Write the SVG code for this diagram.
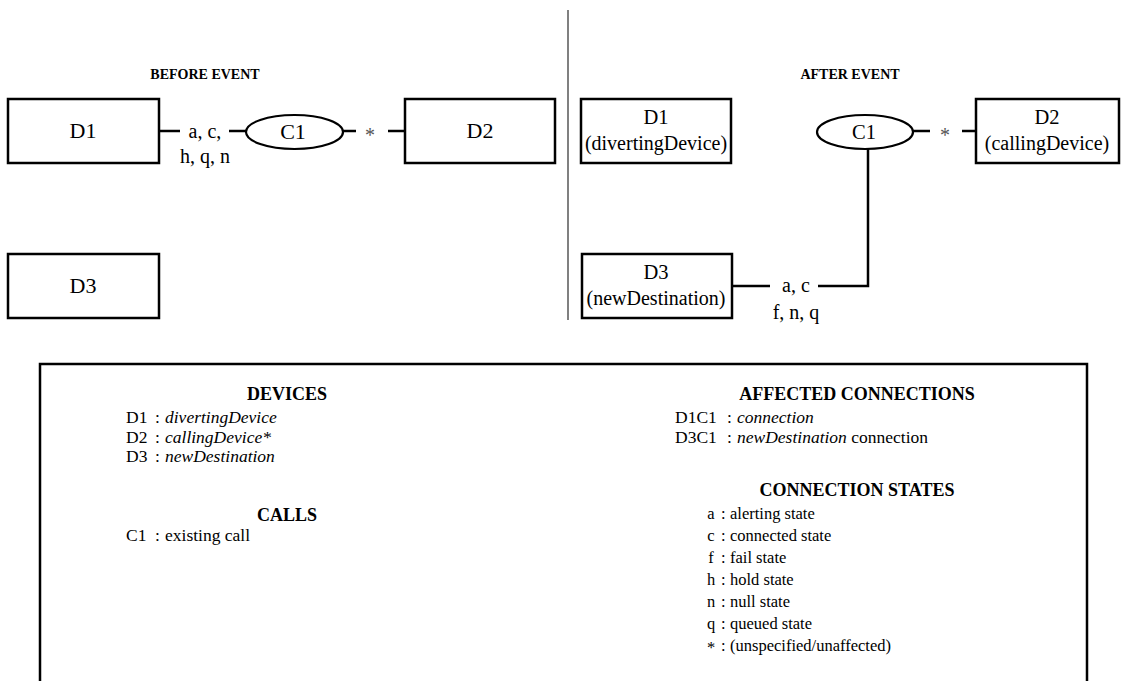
<svg xmlns="http://www.w3.org/2000/svg" width="1123" height="681" viewBox="0 0 1123 681" font-family="'Liberation Serif', 'DejaVu Serif', serif">
<style>
text, tspan{font-family:"Liberation Serif","DejaVu Serif",serif;fill:#000}
.box{fill:#fff;stroke:#000;stroke-width:2.5}
.ell{fill:#fff;stroke:#000;stroke-width:2.2}
.ln{fill:none;stroke:#000;stroke-width:2.5}
.lbB{font-size:22px;text-anchor:middle}
.lbA{font-size:20.5px;text-anchor:middle}
.sub{font-size:20px;text-anchor:middle}
.st{font-size:20px;text-anchor:middle}
.ast{font-size:20px;text-anchor:middle;fill:#555}
.hd{font-size:14px;font-weight:bold;text-anchor:middle}
.hl{font-size:18px;font-weight:bold;text-anchor:middle}
.lg{font-size:17.5px}
.ls{font-size:16.5px}
.lc{font-size:16.5px;text-anchor:middle}
.i{font-style:italic}
</style>
<rect width="1123" height="681" fill="#fff"/>
<text class="hd" x="205" y="79">BEFORE EVENT</text>
<text class="hd" x="850" y="79">AFTER EVENT</text>
<line x1="568" y1="10" x2="568" y2="320" stroke="#808080" stroke-width="2"/>
<g id="connectors">
<line class="ln" x1="159" y1="131" x2="180" y2="131"/>
<line class="ln" x1="229" y1="131" x2="246" y2="131"/>
<line class="ln" x1="343" y1="131" x2="356" y2="131"/>
<line class="ln" x1="388" y1="131" x2="405" y2="131"/>
<line class="ln" x1="913" y1="131" x2="930" y2="131"/>
<line class="ln" x1="962" y1="131" x2="976" y2="131"/>
<polyline class="ln" points="868,149 868,286 818,286"/>
<line class="ln" x1="770" y1="286" x2="732" y2="286"/>
<text class="st" x="205" y="138">a, c,</text>
<text class="st" x="205" y="163">h, q, n</text>
<text class="ast" x="370" y="142">*</text>
<text class="ast" x="945" y="142">*</text>
<text class="st" x="796" y="292">a, c</text>
<text class="st" x="796" y="319">f, n, q</text>
</g>
<g id="b-d1"><rect class="box" x="8" y="99" width="151" height="64"/><text class="lbB" x="83" y="138">D1</text></g>
<g id="b-c1"><ellipse class="ell" cx="294.5" cy="132" rx="48.5" ry="17"/><text class="lbB" x="293" y="139">C1</text></g>
<g id="b-d2"><rect class="box" x="405" y="99" width="150" height="64"/><text class="lbB" x="480" y="138">D2</text></g>
<g id="b-d3"><rect class="box" x="8" y="254" width="151" height="64"/><text class="lbB" x="83" y="293">D3</text></g>
<g id="a-d1"><rect class="box" x="581" y="99" width="150" height="64"/><text class="lbA" x="656" y="124">D1</text><text class="sub" x="656" y="150">(divertingDevice)</text></g>
<g id="a-c1"><ellipse class="ell" cx="865" cy="132" rx="48" ry="17"/><text class="lbA" x="864" y="139">C1</text></g>
<g id="a-d2"><rect class="box" x="976" y="99" width="143" height="64"/><text class="lbA" x="1047" y="124">D2</text><text class="sub" x="1047" y="150">(callingDevice)</text></g>
<g id="a-d3"><rect class="box" x="582" y="254" width="150" height="64"/><text class="lbA" x="656" y="279">D3</text><text class="sub" x="656" y="305">(newDestination)</text></g>
<g id="legend">
<path class="ln" d="M40,681 V364 H1087 V681"/>
<text class="hl" x="287" y="400">DEVICES</text>
<text class="lg" x="126" y="423">D1</text><text class="lg" x="155" y="423">:</text><text class="lg i" x="165" y="423">divertingDevice</text>
<text class="lg" x="126" y="442.5">D2</text><text class="lg" x="155" y="442.5">:</text><text class="lg i" x="165" y="442.5">callingDevice*</text>
<text class="lg" x="126" y="462">D3</text><text class="lg" x="155" y="462">:</text><text class="lg i" x="165" y="462">newDestination</text>
<text class="hl" x="287" y="521">CALLS</text>
<text class="lg" x="126" y="541">C1</text><text class="lg" x="155" y="541">:</text><text class="lg" x="165" y="541">existing call</text>
<text class="hl" x="857" y="400">AFFECTED CONNECTIONS</text>
<text class="lg" x="675" y="423">D1C1</text><text class="lg" x="727" y="423">:</text><text class="lg i" x="737" y="423">connection</text>
<text class="lg" x="675" y="442.5">D3C1</text><text class="lg" x="727" y="442.5">:</text><text class="lg" x="737" y="442.5"><tspan class="i">newDestination</tspan> connection</text>
<text class="hl" x="857" y="496">CONNECTION STATES</text>
<text class="lc" x="711" y="519">a</text><text class="ls" x="721" y="519">:</text><text class="ls" x="730" y="519">alerting state</text>
<text class="lc" x="711" y="541">c</text><text class="ls" x="721" y="541">:</text><text class="ls" x="730" y="541">connected state</text>
<text class="lc" x="711" y="563">f</text><text class="ls" x="721" y="563">:</text><text class="ls" x="730" y="563">fail state</text>
<text class="lc" x="711" y="585">h</text><text class="ls" x="721" y="585">:</text><text class="ls" x="730" y="585">hold state</text>
<text class="lc" x="711" y="607">n</text><text class="ls" x="721" y="607">:</text><text class="ls" x="730" y="607">null state</text>
<text class="lc" x="711" y="629">q</text><text class="ls" x="721" y="629">:</text><text class="ls" x="730" y="629">queued state</text>
<text class="lc" x="711" y="653">*</text><text class="ls" x="721" y="651">:</text><text class="ls" x="730" y="651">(unspecified/unaffected)</text>
</g>
</svg>
